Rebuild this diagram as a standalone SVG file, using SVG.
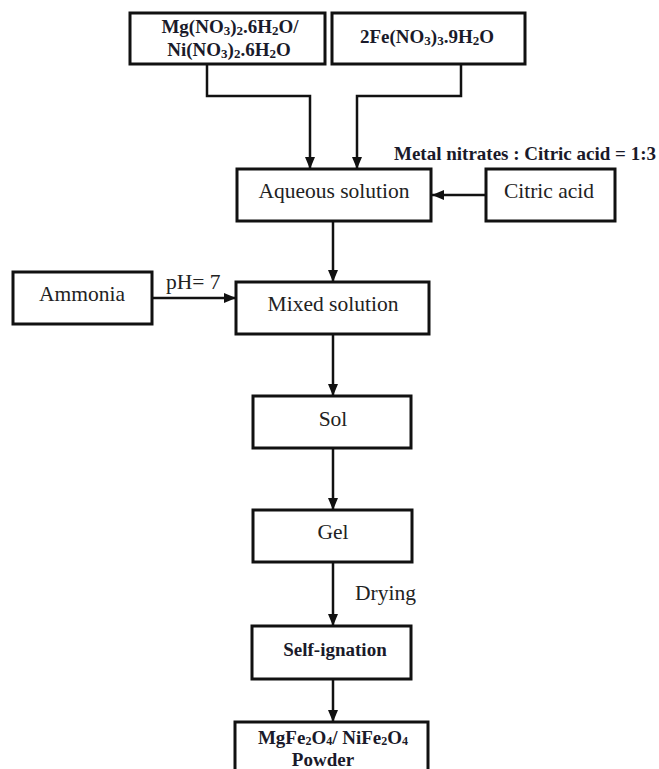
<svg xmlns="http://www.w3.org/2000/svg" width="659" height="769" viewBox="0 0 659 769">
<style>
.box{fill:#fff;stroke:#111;stroke-width:3}
.t{font-family:"Liberation Serif","Times New Roman",serif;font-size:21.5px;fill:#222}
.b{font-family:"Liberation Serif","Times New Roman",serif;font-size:19px;font-weight:bold;fill:#1a1a2a}
.c{fill:none;stroke:#111;stroke-width:2.5}
</style>
<defs>
<marker id="ah" viewBox="0 0 12 10" refX="12" refY="5" markerWidth="12" markerHeight="10" orient="auto" markerUnits="userSpaceOnUse">
<path d="M0,0 L12,5 L0,10 z" fill="#111"/>
</marker>
</defs>
<rect width="659" height="769" fill="#fff"/>
<g id="connectors">
<polyline class="c" points="207,64 207,96 310,96 310,169" marker-end="url(#ah)"/>
<polyline class="c" points="461,64 461,96 357,96 357,169" marker-end="url(#ah)"/>
<line class="c" x1="486" y1="195" x2="432" y2="195" marker-end="url(#ah)"/>
<line class="c" x1="333" y1="221" x2="333" y2="282" marker-end="url(#ah)"/>
<line class="c" x1="152" y1="298" x2="236" y2="298" marker-end="url(#ah)"/>
<line class="c" x1="333" y1="334" x2="333" y2="396" marker-end="url(#ah)"/>
<line class="c" x1="333" y1="448" x2="333" y2="510" marker-end="url(#ah)"/>
<line class="c" x1="333" y1="562" x2="333" y2="626" marker-end="url(#ah)"/>
<line class="c" x1="333" y1="679" x2="333" y2="722" marker-end="url(#ah)"/>
<text class="b" x="394" y="160">Metal nitrates : Citric acid = 1:3</text>
<text class="t" x="166" y="289">pH= 7</text>
<text class="t" x="355" y="600">Drying</text>
</g>
<g id="mg-ni-nitrate">
<rect class="box" x="130" y="13" width="195" height="51"/>
<text class="b" x="230" y="33" text-anchor="middle">Mg(NO<tspan font-size="13" dy="2">3</tspan><tspan dy="-2">)</tspan><tspan font-size="13" dy="2">2</tspan><tspan dy="-2">.6H</tspan><tspan font-size="13" dy="2">2</tspan><tspan dy="-2">O/</tspan></text>
<text class="b" x="229" y="56" text-anchor="middle">Ni(NO<tspan font-size="13" dy="2">3</tspan><tspan dy="-2">)</tspan><tspan font-size="13" dy="2">2</tspan><tspan dy="-2">.6H</tspan><tspan font-size="13" dy="2">2</tspan><tspan dy="-2">O</tspan></text>
</g>
<g id="fe-nitrate">
<rect class="box" x="332" y="13" width="193" height="51"/>
<text class="b" x="427" y="43" text-anchor="middle">2Fe(NO<tspan font-size="13" dy="2">3</tspan><tspan dy="-2">)</tspan><tspan font-size="13" dy="2">3</tspan><tspan dy="-2">.9H</tspan><tspan font-size="13" dy="2">2</tspan><tspan dy="-2">O</tspan></text>
</g>
<g id="aqueous">
<rect class="box" x="237" y="169" width="194" height="52"/>
<text class="t" x="334" y="198" text-anchor="middle">Aqueous solution</text>
</g>
<g id="citric">
<rect class="box" x="486" y="169" width="129" height="52"/>
<text class="t" x="549" y="198" text-anchor="middle">Citric acid</text>
</g>
<g id="ammonia">
<rect class="box" x="13" y="272" width="139" height="52"/>
<text class="t" x="82" y="301" text-anchor="middle">Ammonia</text>
</g>
<g id="mixed">
<rect class="box" x="236" y="282" width="193" height="52"/>
<text class="t" x="333" y="311" text-anchor="middle">Mixed solution</text>
</g>
<g id="sol">
<rect class="box" x="253" y="396" width="158" height="52"/>
<text class="t" x="333" y="426" text-anchor="middle">Sol</text>
</g>
<g id="gel">
<rect class="box" x="253" y="510" width="159" height="52"/>
<text class="t" x="333" y="539" text-anchor="middle">Gel</text>
</g>
<g id="self-ignation">
<rect class="box" x="252" y="626" width="159" height="53"/>
<text class="b" x="335" y="656" text-anchor="middle">Self-ignation</text>
</g>
<g id="powder">
<rect class="box" x="235" y="722" width="193" height="60"/>
<text class="b" x="333" y="744" text-anchor="middle" font-size="18">MgFe<tspan font-size="12" dy="1">2</tspan><tspan dy="-1">O</tspan><tspan font-size="12" dy="1">4</tspan><tspan dy="-1">/ NiFe</tspan><tspan font-size="12" dy="1">2</tspan><tspan dy="-1">O</tspan><tspan font-size="12" dy="1">4</tspan></text>
<text class="b" x="323" y="766" text-anchor="middle" font-size="18">Powder</text>
</g>
</svg>
